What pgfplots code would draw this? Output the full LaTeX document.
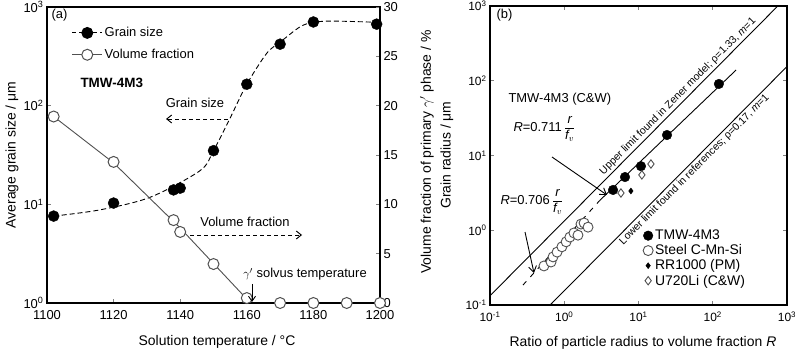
\documentclass[border=0pt]{standalone}
\usepackage{pgfplots}
\pgfplotsset{compat=1.18}
\usepackage{fontspec}
\setmainfont{Liberation Sans}
\usetikzlibrary{arrows.meta}
\definecolor{vgray}{HTML}{555555}
\definecolor{mgray}{HTML}{505050}

\begin{document}
\begin{tikzpicture}[font=\fontsize{13}{15}\selectfont]
\path[use as bounding box] (0bp,0bp) rectangle (800bp,355bp);

% ---------------- Panel (a): grain size (log, left axis)
\begin{axis}[
  at={(47bp,52bp)}, anchor=south west, scale only axis,
  width=333bp, height=296bp,
  xmin=1100, xmax=1200, ymode=log, ymin=1, ymax=1000,
  xtick={1100,1120,1140,1160,1180,1200},
  xticklabels={1100,1120,1140,1160,1180,1200},
  ytick={1,10,100,1000},
  yticklabels={10\textsuperscript{0},10\textsuperscript{1},10\textsuperscript{2},10\textsuperscript{3}},
  yminorticks=false,
  xtick pos=bottom, ytick pos=left, tick align=inside,
  major tick length=4bp,
  axis line style={line width=1.3bp},
  tick style={line width=0.8bp},
  tick label style={font=\fontsize{13}{15}\selectfont},
  xticklabel style={yshift=-4bp},
  legend style={at={(0.065,0.945)}, anchor=north west, draw=none, fill=none,
    font=\fontsize{13}{15}\selectfont, row sep=7bp},
  legend cell align=left,
  legend image code/.code={\draw[mark repeat=2,mark phase=2,#1] plot coordinates {(0bp,0bp) (15bp,0bp) (30bp,0bp)};},
]
\addplot[black, dash pattern=on 5bp off 3bp, line width=0.9bp, smooth, tension=0.5, forget plot]
  coordinates {(1102,7.6)(1116,8.8)(1131,11.8)(1146,22)(1150,35)(1155,75)(1160,165)(1166,340)(1170,440)(1176,630)(1180,700)(1186,720)(1199,700)};
\addplot[only marks, mark=*, mark size=5.5bp, black, forget plot]
  coordinates {(1102,7.6)(1120,10.3)(1138,14)(1140,14.6)(1150,35)(1160,165)(1170,420)(1180,705)(1199,670)};
\addlegendimage{black, dash pattern=on 4bp off 3bp, line width=0.9bp, mark=*, mark size=5.5bp, mark options={solid}}
\addlegendentry{Grain size}
\addlegendimage{mgray, line width=0.9bp, mark=*, mark size=5.5bp, mark options={fill=white, draw=mgray, line width=1bp}}
\addlegendentry{Volume fraction}
\end{axis}

% ---------------- Panel (a): volume fraction (linear, right axis)
\begin{axis}[
  at={(47bp,52bp)}, anchor=south west, scale only axis,
  width=333bp, height=296bp,
  xmin=1100, xmax=1200, ymin=0, ymax=30,
  axis x line=none, axis y line*=right,
  ytick={0,5,10,15,20,25,30},
  yticklabels={0,5,10,15,20,25,30},
  tick align=inside, major tick length=4bp,
  axis line style={line width=1.3bp},
  tick style={line width=0.8bp},
  tick label style={font=\fontsize{13}{15}\selectfont},
]
\addplot[mgray, line width=0.9bp] coordinates {(1102,18.9)(1120,14.2)(1140,7.6)(1150,4.0)(1160,0.4)};
\addplot[only marks, mark=*, mark size=5.5bp, mark options={fill=white, draw=mgray, line width=1bp}]
  coordinates {(1102,18.9)(1120,14.3)(1138,8.4)(1140,7.2)(1150,3.95)(1160,0.5)(1170,0)(1180,0)(1190,0)(1200,0)};
\end{axis}

% ---------------- Panel (b)
\begin{axis}[
  at={(490bp,50bp)}, anchor=south west, scale only axis,
  width=297bp, height=299bp,
  xmode=log, ymode=log, xmin=0.1, xmax=1000, ymin=0.1, ymax=1000,
  xtick={0.1,1,10,100,1000}, ytick={0.1,1,10,100,1000},
  xticklabels={10\textsuperscript{-1},10\textsuperscript{0},10\textsuperscript{1},10\textsuperscript{2},10\textsuperscript{3}},
  yticklabels={10\textsuperscript{-1},10\textsuperscript{0},10\textsuperscript{1},10\textsuperscript{2},10\textsuperscript{3}},
  xminorticks=false, yminorticks=false,
  tick align=inside, major tick length=4bp,
  axis line style={line width=1.3bp},
  tick style={line width=0.8bp, gray},
  tick label style={font=\fontsize{12}{14}\selectfont},
  xticklabel style={yshift=-3bp},
  legend style={at={(0.515,0.258)}, anchor=north west, draw=none, fill=none,
    font=\fontsize{14}{15}\selectfont, row sep=-0.5bp, inner sep=0bp},
  legend cell align=left,
  legend image code/.code={\draw[mark repeat=2,mark phase=2,#1] plot coordinates {(0bp,0bp) (6bp,0bp) (12bp,0bp)};},
]
\addplot[black, line width=0.9bp, forget plot] coordinates {(0.05,0.0665)(800,1064)};
\addplot[black, line width=0.9bp, forget plot] coordinates {(0.5,0.0775)(1200,186)};
\addplot[black, line width=0.9bp, forget plot] coordinates {(3.0,2.5)(206,139)};
\addplot[black, line width=0.9bp, dash pattern=on 5bp off 6bp, forget plot] coordinates {(0.278,0.185)(3.0,2.5)};
\addplot[only marks, mark=*, mark size=4.8bp, black]
  coordinates {(4.54,3.46)(6.58,5.15)(10.8,7.2)(24.2,18.8)(121,90.6)};
\addlegendentry{TMW-4M3}
\addplot[only marks, mark=*, mark size=5bp, mark options={fill=white, draw=mgray, line width=0.9bp}]
  coordinates {(0.533,0.333)(0.664,0.376)(0.706,0.44)(0.80,0.51)(0.93,0.60)(1.06,0.70)(1.19,0.81)(1.35,0.92)(1.53,0.86)(1.68,1.21)(1.85,1.25)(2.09,1.10)};
\addlegendentry{Steel C-Mn-Si}
\addplot[only marks, mark=diamond*, mark size=3bp, black]
  coordinates {(7.9,3.35)};
\addlegendentry{RR1000 (PM)}
\addplot[only marks, mark=diamond, mark size=4.2bp, mark options={draw=mgray, line width=0.9bp}]
  coordinates {(5.8,3.15)(11.1,5.5)(14.7,7.7)};
\addlegendentry{U720Li (C\&W)}
\node[anchor=south, rotate=45.2, inner sep=2bp, font=\fontsize{10.5}{12}\selectfont]
  at (axis cs:39.7,52.8) {Upper limit found in Zener model; ρ=1.33, \textit{m}=1};
\node[anchor=north, rotate=45.2, inner sep=2bp, font=\fontsize{10.5}{12}\selectfont]
  at (axis cs:48.6,7.53) {Lower limit found in references; ρ=0.17, \textit{m}=1};
\end{axis}

\begin{scope}[x=1bp,y=1bp]
% ---------------- annotations panel (a)
\node[anchor=west] at (48,340) {(a)};
\node[anchor=west, font=\fontsize{13.5}{15}\selectfont\bfseries] at (77,272) {TMW-4M3};
\node at (195,252) {Grain size};
\draw[dash pattern=on 4bp off 3bp, line width=0.9bp, -{Straight Barb[length=5bp,width=8bp]}] (228,236) -- (166,236);
\node at (245,133) {Volume fraction};
\draw[dash pattern=on 4bp off 3bp, line width=0.9bp, -{Straight Barb[length=5bp,width=8bp]}] (190,120) -- (302,120);
\node at (305,81) {$\gamma'$ solvus temperature};
\draw[line width=0.9bp, -{Straight Barb[length=5bp,width=7bp]}] (252,71) -- (252,53);

% axis labels (a)
\node[rotate=90, font=\fontsize{14}{16}\selectfont] at (12,200) {Average grain size / μm};
\node[font=\fontsize{14}{16}\selectfont] at (217,13) {Solution temperature / °C};
\node[rotate=90, font=\fontsize{14}{16}\selectfont] at (427,203) {Volume fraction of primary $\gamma'$ phase / \%};

% ---------------- annotations panel (b)
\node[anchor=west] at (493,340) {(b)};
\node[anchor=west] at (505,256) {TMW-4M3 (C\&W)};
\node[anchor=west] at (510,226) {\textit{R}=0.711\,$\displaystyle\frac{\mbox{\itshape r}}{\mbox{\itshape f}_{v}}$};
\node[anchor=west] at (497,153) {\textit{R}=0.706\,$\displaystyle\frac{\mbox{\itshape r}}{\mbox{\itshape f}_{v}}$};
\draw[line width=0.9bp, -{Straight Barb[length=6bp,width=8bp]}] (552,198) -- (607,160);
\draw[line width=0.9bp, -{Straight Barb[length=6bp,width=8bp]}] (525,123) -- (534,82);

\node[rotate=90, font=\fontsize{14}{16}\selectfont] at (447,200) {Grain radius / μm};
\node[font=\fontsize{14}{16}\selectfont] at (643,12) {Ratio of particle radius to volume fraction \textit{R}};
\end{scope}
\end{tikzpicture}
\end{document}
